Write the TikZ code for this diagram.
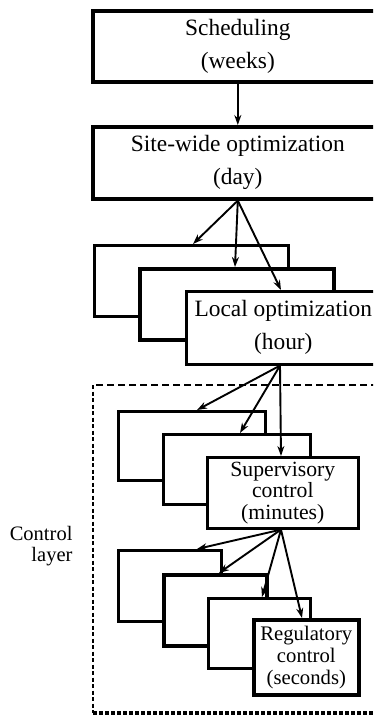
\documentclass[tikz,border=0pt]{standalone}
\usepackage{fontspec}
\setmainfont{Liberation Serif}
\usetikzlibrary{arrows.meta,calc}

\begin{document}
\begin{tikzpicture}[x=1pt,y=-1pt,
  box/.style={draw,fill=white,anchor=north west,inner sep=0pt,align=center},
  thickbox/.style={box,line width=3.6pt},
  thinbox/.style={box,line width=2.6pt},
  arr/.style={line width=1.9pt,-{Stealth[length=10pt,width=7pt]}},
  bigtxt/.style={font=\fontsize{23.4}{33}\selectfont},
  midtxt/.style={font=\fontsize{21.7}{21.5}\selectfont},
  smalltxt/.style={font=\fontsize{20.7}{22}\selectfont}
]
\clip (0,0) rectangle (373,716);
\fill[white] (0,0) rectangle (373,716);

% top two levels
\node[thickbox,bigtxt,minimum width=290,minimum height=71] (sched) at (91,9)
  {Scheduling\\(weeks)};
\node[thickbox,bigtxt,minimum width=290,minimum height=72] (site) at (91,125)
  {Site-wide optimization\\(day)};
\draw[arr] (sched.south) -- (site.north);

% stack of local optimizers
\node[thinbox,minimum width=194,minimum height=71] (loc1) at (93,244) {};
\node[thickbox,minimum width=194,minimum height=71] (loc2) at (138,267) {};
\node[thinbox,bigtxt,minimum width=194,minimum height=73] (loc3) at (185,290)
  {Local optimization\\(hour)};
\draw[arr] (site.south) -- ($(loc1.north west)+(100,0)$);
\draw[arr] (site.south) -- ($(loc2.north west)+(97,0)$);
\draw[arr] (site.south) -- ($(loc3.north west)+(96,0)$);

% control layer frame
\coordinate (fnw) at (93,385);
\coordinate (fsw) at (93,713);
\coordinate (fne) at (400,385);
\coordinate (fse) at (400,713);
\draw[line width=2.4pt,dash pattern=on 7pt off 4pt] (fne) -- (fnw);
\draw[line width=2.6pt,dash pattern=on 4pt off 2.5pt] (fnw) -- (fsw);
\draw[line width=4pt,dash pattern=on 4pt off 2pt] (fsw) -- (fse);
\node[anchor=east,align=right,font=\fontsize{20.5}{21.5}\selectfont] (ctl) at (76,546)
  {Control\\layer};

% stack of supervisory controllers
\node[thinbox,minimum width=147,minimum height=69] (sup1) at (117,410) {};
\node[thinbox,minimum width=147,minimum height=70] (sup2) at (162,433) {};
\node[thinbox,midtxt,minimum width=151,minimum height=71] (sup3) at (206,456)
  {Supervisory\\control\\(minutes)};
\coordinate (lo) at ($(loc3.south west)+(95,0)$);
\draw[arr] (lo) -- ($(sup1.north west)+(80,0)$);
\draw[arr] (lo) -- ($(sup2.north west)+(78,0)$);
\draw[arr] (lo) -- ($(sup3.north west)+(75,0)$);

% stack of regulatory controllers
\node[thinbox,minimum width=103,minimum height=71] (reg1) at (117,549) {};
\node[thickbox,minimum width=103,minimum height=71] (reg2) at (162,573) {};
\node[thinbox,minimum width=102,minimum height=70] (reg3) at (207,597) {};
\node[thickbox,smalltxt,minimum width=105,minimum height=75] (reg4) at (252,618)
  {Regulatory\\control\\(seconds)};
\coordinate (so) at ($(sup3.south west)+(75,0)$);
\draw[arr] (so) -- ($(reg1.north west)+(80,0)$);
\draw[arr] (so) -- ($(reg2.north west)+(57,0)$);
\draw[arr] (so) -- ($(reg3.north west)+(55,0)$);
\draw[arr] (so) -- ($(reg4.north west)+(50,0)$);
\end{tikzpicture}
\end{document}
